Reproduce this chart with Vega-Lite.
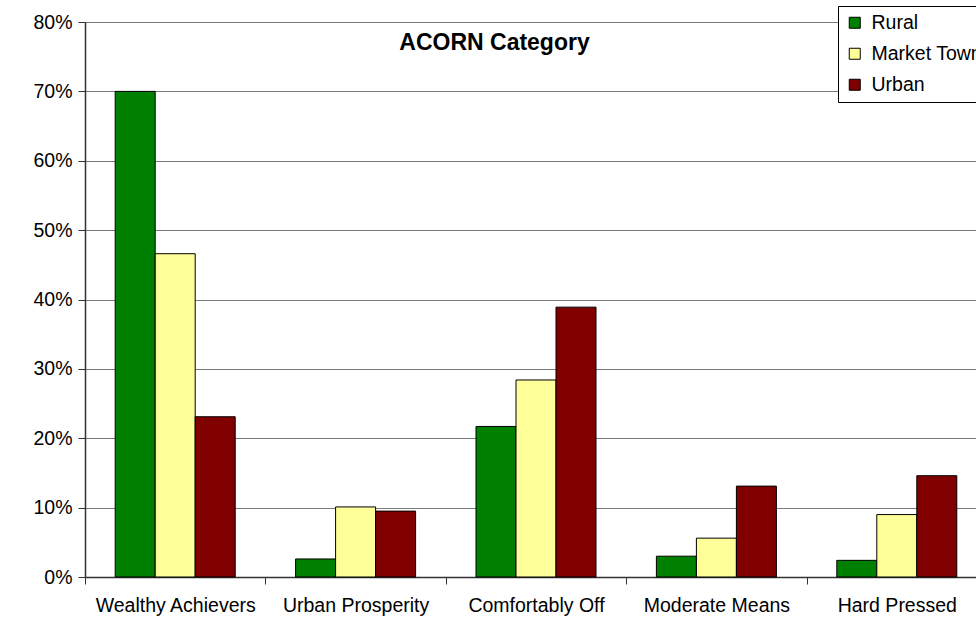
{
  "$schema": "https://vega.github.io/schema/vega-lite/v6.json",
  "autosize": "none",
  "width": 891,
  "height": 555,
  "padding": {"left": 85, "top": 22, "right": 0, "bottom": 44},
  "background": "white",
  "title": {
    "text": "ACORN Category",
    "font": "Liberation Sans",
    "fontSize": 23,
    "fontWeight": "bold",
    "color": "black",
    "anchor": "middle",
    "baseline": "alphabetic",
    "offset": 0,
    "dx": -36,
    "dy": 67
  },
  "data": {
    "values": [
      {"category": "Wealthy Achievers", "area": "Rural", "share": 0.700},
      {"category": "Wealthy Achievers", "area": "Market Town", "share": 0.466},
      {"category": "Wealthy Achievers", "area": "Urban", "share": 0.231},
      {"category": "Urban Prosperity", "area": "Rural", "share": 0.026},
      {"category": "Urban Prosperity", "area": "Market Town", "share": 0.101},
      {"category": "Urban Prosperity", "area": "Urban", "share": 0.095},
      {"category": "Comfortably Off", "area": "Rural", "share": 0.217},
      {"category": "Comfortably Off", "area": "Market Town", "share": 0.284},
      {"category": "Comfortably Off", "area": "Urban", "share": 0.389},
      {"category": "Moderate Means", "area": "Rural", "share": 0.030},
      {"category": "Moderate Means", "area": "Market Town", "share": 0.056},
      {"category": "Moderate Means", "area": "Urban", "share": 0.131},
      {"category": "Hard Pressed", "area": "Rural", "share": 0.024},
      {"category": "Hard Pressed", "area": "Market Town", "share": 0.090},
      {"category": "Hard Pressed", "area": "Urban", "share": 0.146}
    ]
  },
  "mark": {"type": "bar", "stroke": "black", "strokeWidth": 1},
  "encoding": {
    "x": {
      "field": "category",
      "type": "nominal",
      "sort": ["Wealthy Achievers", "Urban Prosperity", "Comfortably Off", "Moderate Means", "Hard Pressed"],
      "scale": {"paddingInner": 0, "paddingOuter": 0, "range": [0, 902]},
      "axis": {
        "title": null,
        "labelAngle": 0,
        "labelFont": "Liberation Sans",
        "labelFontSize": 19.5,
        "labelColor": "black",
        "labelPadding": 12,
        "labelLimit": 300,
        "tickBand": "extent",
        "tickSize": 7,
        "tickColor": "#333333",
        "domainColor": "#333333",
        "domainWidth": 1.5,
        "grid": false
      }
    },
    "xOffset": {
      "field": "area",
      "type": "nominal",
      "sort": ["Rural", "Market Town", "Urban"],
      "scale": {"paddingInner": 0, "paddingOuter": 0.755}
    },
    "y": {
      "field": "share",
      "type": "quantitative",
      "scale": {"domain": [0, 0.8], "nice": false},
      "axis": {
        "title": null,
        "values": [0, 0.1, 0.2, 0.3, 0.4, 0.5, 0.6, 0.7, 0.8],
        "format": ".0%",
        "labelFont": "Liberation Sans",
        "labelFontSize": 19.5,
        "labelColor": "black",
        "labelPadding": 6,
        "tickSize": 7,
        "tickColor": "#333333",
        "domainColor": "#333333",
        "domainWidth": 1.5,
        "grid": true,
        "gridColor": "#7a7a7a",
        "gridWidth": 1
      }
    },
    "fill": {
      "field": "area",
      "type": "nominal",
      "sort": ["Rural", "Market Town", "Urban"],
      "scale": {"domain": ["Rural", "Market Town", "Urban"], "range": ["#008000", "#FFFF99", "#800000"]},
      "legend": {
        "title": null,
        "orient": "none",
        "legendX": 753,
        "legendY": -16,
        "fillColor": "white",
        "strokeColor": "black",
        "padding": 7,
        "rowPadding": 10,
        "symbolType": "square",
        "symbolSize": 121,
        "symbolStrokeColor": "black",
        "symbolStrokeWidth": 1,
        "labelFont": "Liberation Sans",
        "labelFontSize": 19.5,
        "labelColor": "black",
        "labelOffset": 7,
        "labelLimit": 300
      }
    }
  },
  "config": {
    "view": {"stroke": null}
  }
}
